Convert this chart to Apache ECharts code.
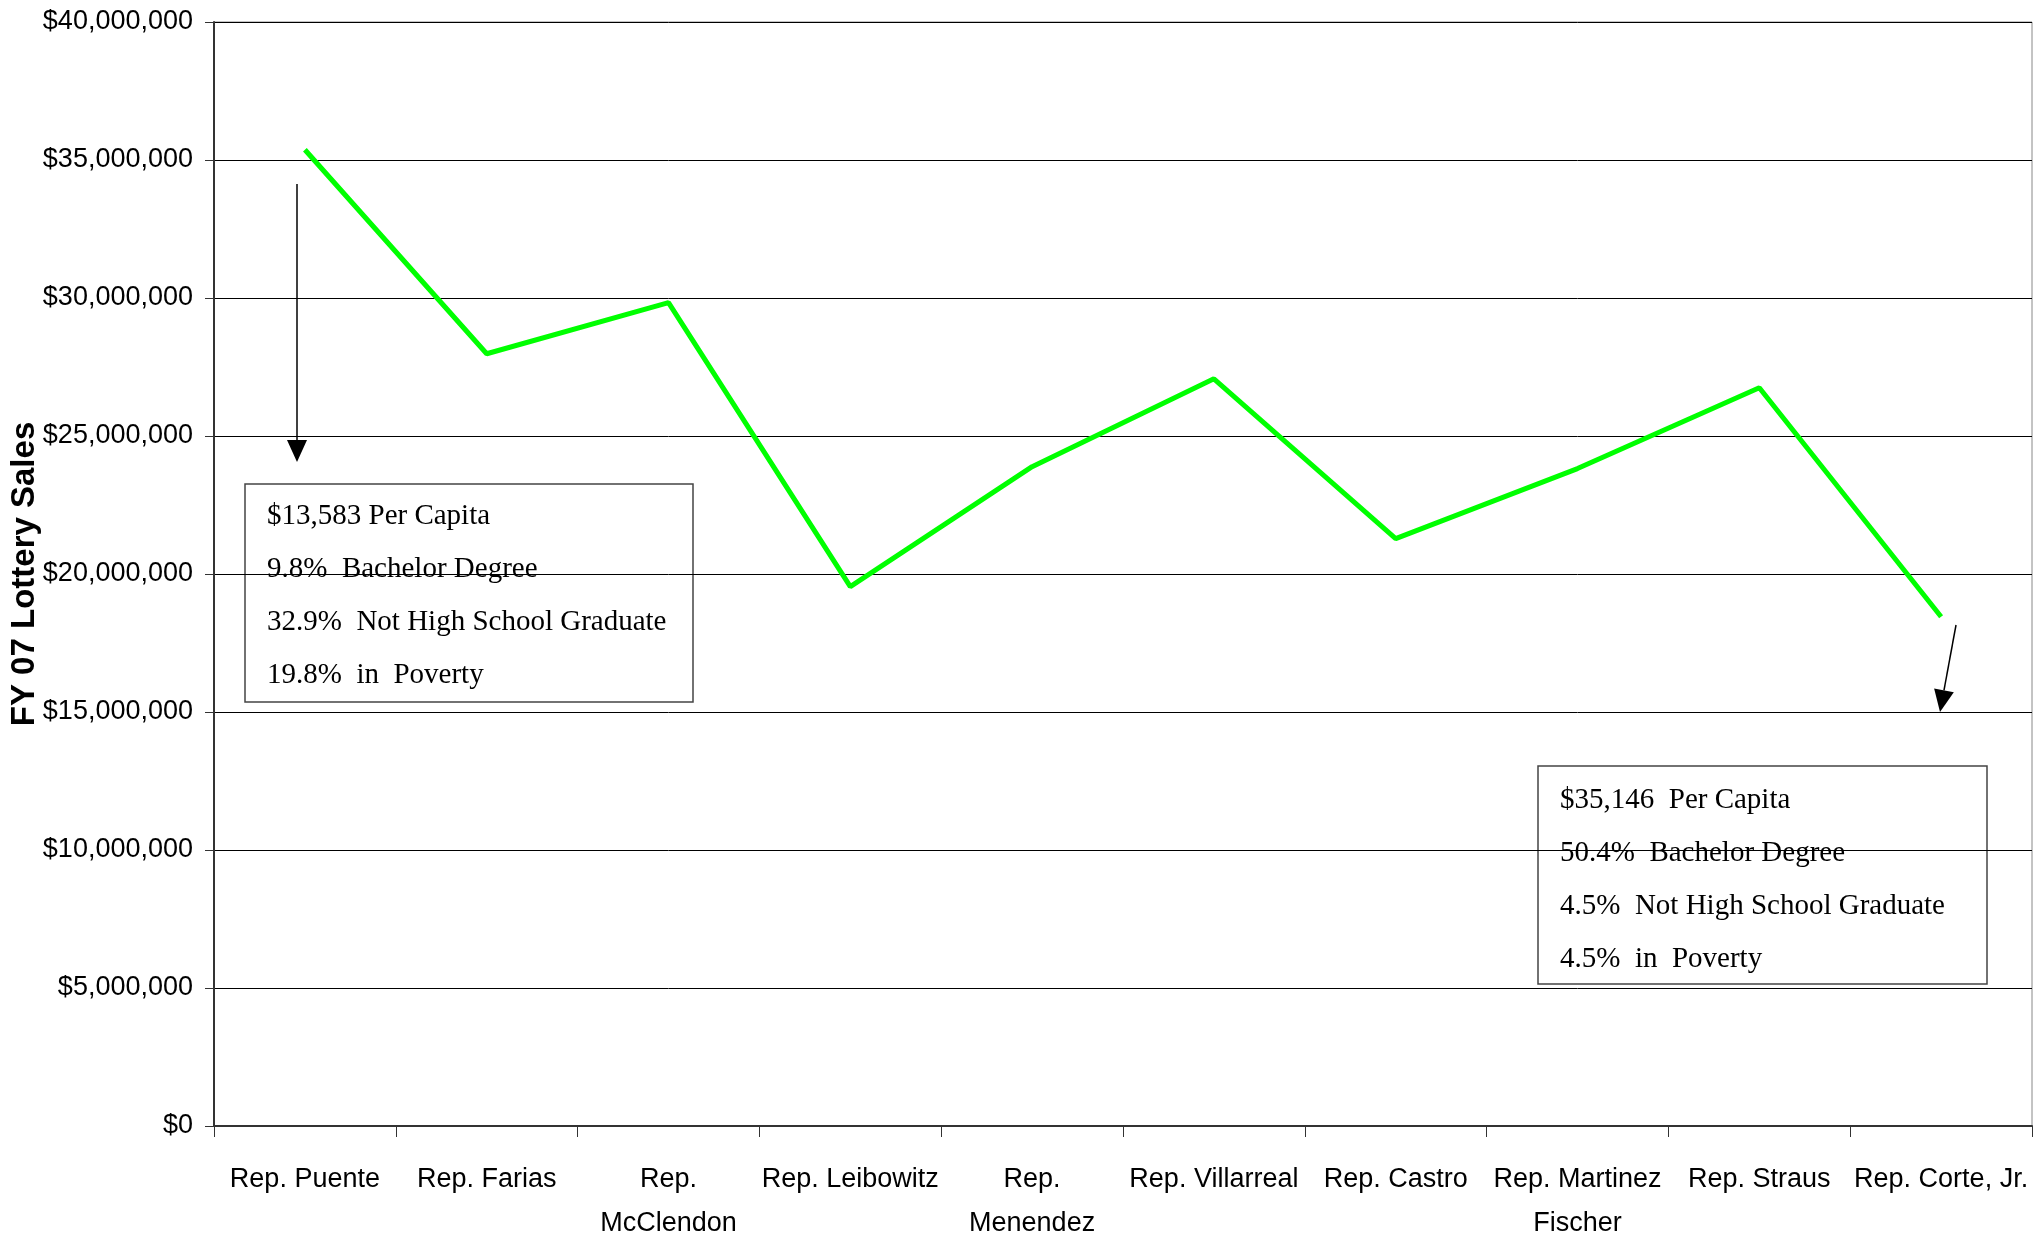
<!DOCTYPE html>
<html>
<head>
<meta charset="utf-8">
<title>FY 07 Lottery Sales</title>
<script src="https://cdn.jsdelivr.net/npm/echarts@6/dist/echarts.min.js"></script>
<style>
  html, body { margin: 0; padding: 0; background: #fff; }
  #chart { width: 2042px; height: 1243px; }
</style>
</head>
<body>
<div id="chart"></div>
<script>
// data
var reps = ['Rep. Puente', 'Rep. Farias', 'Rep.\nMcClendon', 'Rep. Leibowitz', 'Rep.\nMenendez',
  'Rep. Villarreal', 'Rep. Castro', 'Rep. Martinez\nFischer', 'Rep. Straus', 'Rep. Corte, Jr.']
var sales = [35370000, 27980000, 29830000, 19540000, 23890000,
  27070000, 21280000, 23820000, 26750000, 18450000]
var yTicks = { min: 0, max: 40000000, interval: 5000000 }
var leftNote = ['$13,583 Per Capita', '9.8%  Bachelor Degree', '32.9%  Not High School Graduate', '19.8%  in  Poverty']
var rightNote = ['$35,146  Per Capita', '50.4%  Bachelor Degree', '4.5%  Not High School Graduate', '4.5%  in  Poverty']

var axisFont = '"Liberation Sans Narrow", "Arial Narrow", "Liberation Sans", Arial, sans-serif'
var noteFont = '"Liberation Serif", "Times New Roman", serif'

function money(v) {
  return '$' + String(v).replace(/\B(?=(\d{3})+(?!\d))/g, ',')
}

function noteBox(x, y, w, h, lines, textX, firstY, step) {
  var children = [{
    type: 'rect',
    shape: { x: x, y: y, width: w, height: h },
    style: { fill: '#fff', stroke: '#444', lineWidth: 1.5 }
  }]
  lines.forEach(function(t, i) {
    children.push({
      type: 'text',
      x: textX,
      y: firstY + i * step,
      style: { text: t, font: '29px ' + noteFont, fill: '#000', verticalAlign: 'middle' }
    })
  })
  return { type: 'group', z: 100, children: children }
}

function arrow(x1, y1, x2, y2) {
  var dx = x2 - x1, dy = y2 - y1
  var len = Math.sqrt(dx * dx + dy * dy)
  var ux = dx / len, uy = dy / len
  var hl = 22, hw = 10
  var bx = x2 - ux * hl, by = y2 - uy * hl
  return {
    type: 'group', z: 100,
    children: [
      { type: 'line', shape: { x1: x1, y1: y1, x2: bx, y2: by }, style: { stroke: '#000', lineWidth: 1.5 } },
      { type: 'polygon', shape: { points: [[x2, y2], [bx - uy * hw, by + ux * hw], [bx + uy * hw, by - ux * hw]] }, style: { fill: '#000' } }
    ]
  }
}

var chart = echarts.init(document.getElementById('chart'))

chart.setOption({
  animation: false,
  grid: {
    left: 214, right: 10, top: 22, bottom: 117,
    outerBoundsMode: 'none',
    containLabel: false,
    show: true, borderColor: '#888', borderWidth: 1
  },
  xAxis: {
    type: 'category',
    data: reps,
    boundaryGap: true,
    axisLine: { lineStyle: { color: '#333', width: 2 } },
    axisTick: { show: true, length: 11, lineStyle: { color: '#333', width: 1 } },
    axisLabel: {
      interval: 0,
      margin: 32,
      fontFamily: axisFont,
      fontSize: 27,
      lineHeight: 44,
      color: '#000'
    },
    splitLine: { show: false }
  },
  yAxis: {
    type: 'value',
    min: yTicks.min,
    max: yTicks.max,
    interval: yTicks.interval,
    name: 'FY 07 Lottery Sales',
    nameLocation: 'middle',
    nameRotate: 90,
    nameGap: 173,
    nameMoveOverlap: false,
    nameTextStyle: { fontFamily: '"Liberation Sans", Arial, sans-serif', fontWeight: 'bold', fontSize: 33, color: '#000' },
    axisLine: { show: true, lineStyle: { color: '#333', width: 2 } },
    axisTick: { show: true, length: 9, lineStyle: { color: '#333', width: 1 } },
    axisLabel: {
      margin: 21,
      fontFamily: axisFont,
      fontSize: 27,
      color: '#000',
      formatter: money
    },
    splitLine: { show: true, lineStyle: { color: '#000', width: 1 } }
  },
  series: [
    {
      name: 'FY 07 Lottery Sales',
      type: 'line',
      data: sales,
      symbol: 'none',
      lineStyle: { color: '#00ff00', width: 5 },
      z: 10
    }
  ],
  graphic: [
    arrow(297, 184, 297, 462),
    arrow(1956, 625, 1940, 712),
    noteBox(245, 484, 448, 218, leftNote, 267, 516, 53),
    noteBox(1538, 766, 449, 218, rightNote, 1560, 800, 53)
  ]
})
</script>
</body>
</html>
